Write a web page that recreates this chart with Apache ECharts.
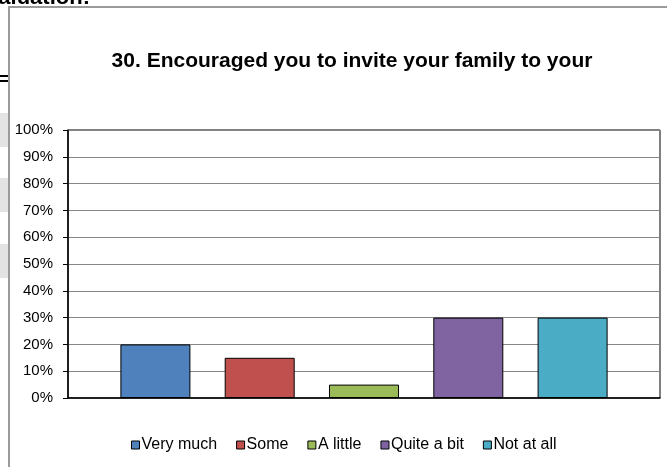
<!DOCTYPE html>
<html>
<head>
<meta charset="utf-8">
<script src="https://cdn.jsdelivr.net/npm/echarts@6/dist/echarts.min.js"></script>
<style>
  html, body { margin: 0; padding: 0; background: #fff; }
  #main { width: 667px; height: 467px; }
</style>
</head>
<body>
<div id="main"></div>
<script>
const categories = [''];
const seriesNames = ['Very much', 'Some', 'A little', 'Quite a bit', 'Not at all'];
const seriesValues = [0.20, 0.15, 0.05, 0.30, 0.30];
const colors = ['#4F81BD', '#C0504D', '#9BBB59', '#8064A2', '#4BACC6'];

const chart = echarts.init(document.getElementById('main'));

const font = 'Liberation Sans, Arial, sans-serif';

option = {
    animation: false,
    title: {
        text: '30. Encouraged you to invite your family to your',
        left: 347,
        textAlign: 'center',
        top: 46,
        textStyle: {
            fontFamily: font,
            fontSize: 21,
            fontWeight: 'bold',
            color: '#000'
        }
    },
    legend: {
        left: 126,
        top: 432,
        itemWidth: 8,
        itemHeight: 8,
        itemGap: 19,
        icon: 'rect',
        itemStyle: { borderColor: '#000', borderWidth: 1 },
        textStyle: { fontFamily: font, fontSize: 16, color: '#000', padding: [0, 0, 0, -3] },
        data: seriesNames
    },
    grid: {
        left: 68,
        top: 130,
        right: 7,
        bottom: 69,
        show: true,
        borderColor: '#000',
        borderWidth: 1
    },
    xAxis: {
        type: 'category',
        data: categories,
        axisLine: { lineStyle: { color: '#000', width: 1.5 } },
        axisTick: { show: false },
        axisLabel: { show: false }
    },
    yAxis: {
        type: 'value',
        min: 0,
        max: 1,
        interval: 0.1,
        axisLine: { show: true, lineStyle: { color: '#000', width: 1.5 } },
        axisTick: { show: true, length: 5, lineStyle: { color: '#000' } },
        splitLine: { lineStyle: { color: '#868686', width: 1 } },
        axisLabel: {
            margin: 15,
            fontFamily: font,
            fontSize: 15,
            color: '#000',
            formatter: (v) => Math.round(v * 100) + '%'
        }
    },
    series: seriesNames.map((name, i) => ({
        name: name,
        type: 'bar',
        data: [seriesValues[i]],
        barWidth: 70,
        barGap: '49%',
        itemStyle: { color: colors[i], borderColor: '#000', borderWidth: 1 }
    })),
    graphic: [
        { type: 'text', style: { x: 90, y: 9, text: 'Evaluation:', textAlign: 'right', textVerticalAlign: 'bottom', font: 'bold 22px Liberation Sans, Arial', fill: '#000' } },
        { type: 'rect', shape: { x: 0, y: 75, width: 9, height: 2 }, style: { fill: '#000' } },
        { type: 'rect', shape: { x: 0, y: 80, width: 9, height: 2 }, style: { fill: '#000' } },
        { type: 'rect', shape: { x: 0, y: 113, width: 8, height: 34 }, style: { fill: '#e3e3e3' } },
        { type: 'rect', shape: { x: 0, y: 178, width: 8, height: 34 }, style: { fill: '#e3e3e3' } },
        { type: 'rect', shape: { x: 0, y: 244, width: 8, height: 34 }, style: { fill: '#e3e3e3' } },
        { type: 'rect', z: 100, shape: { x: 9, y: 7, width: 700, height: 500 }, style: { fill: 'none', stroke: '#9a9a9a', lineWidth: 2 } }
    ]
};

chart.setOption(option);
</script>
</body>
</html>
